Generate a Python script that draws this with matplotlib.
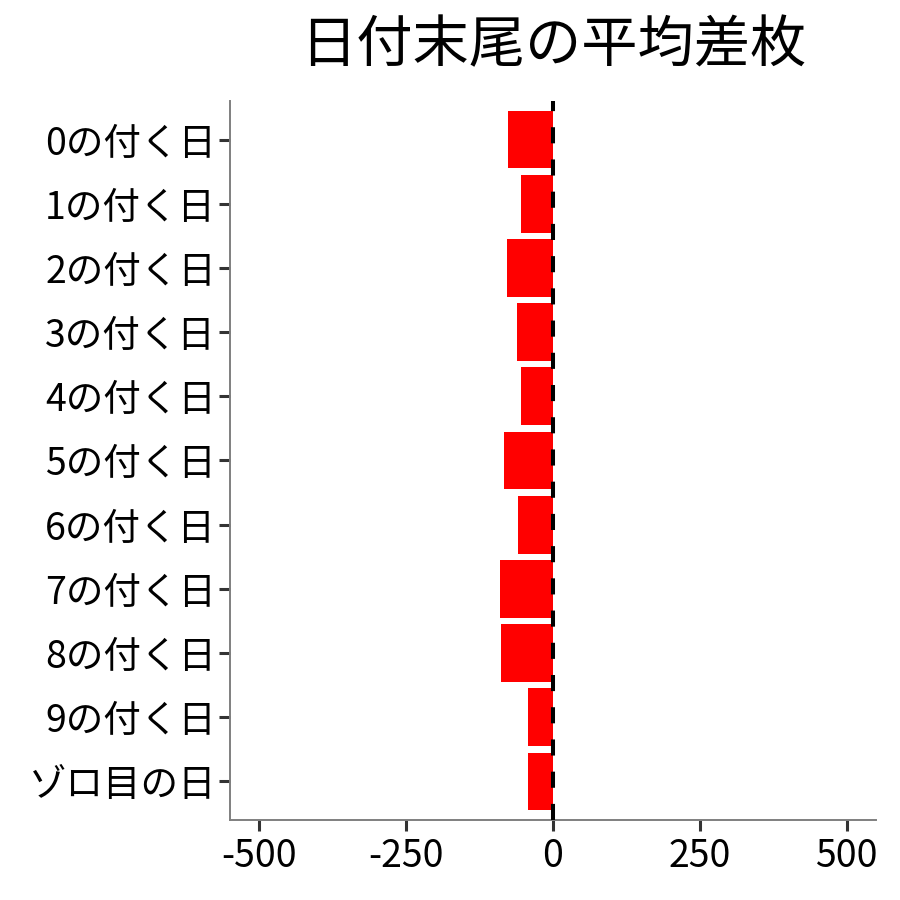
import numpy as np
import matplotlib
matplotlib.use("Agg")
import matplotlib.pyplot as plt

plt.rcParams['font.family'] = ['Noto Sans CJK JP', 'DejaVu Sans']

# 日付末尾ごとの平均差枚
categories = ['0の付く日', '1の付く日', '2の付く日', '3の付く日', '4の付く日',
              '5の付く日', '6の付く日', '7の付く日', '8の付く日', '9の付く日',
              'ゾロ目の日']
values = [-76, -55, -78, -62, -55, -84, -59, -91, -89, -43, -43]
xticks = [-500, -250, 0, 250, 500]

fig = plt.figure(figsize=(9, 9), dpi=100)
ax = fig.add_axes([230 / 900, 80 / 900, 646 / 900, 719 / 900])

ypos = np.arange(len(categories))
ax.barh(ypos, values, height=0.9, color='#ff0000', zorder=2)
ax.axvline(0, color='black', lw=2.9, linestyle=(0, (4, 4)), zorder=3)

ax.set_xlim(-550, 550)
ax.set_ylim(len(categories) - 0.4, -0.6)
ax.set_yticks(ypos)
ax.set_yticklabels(categories)
ax.set_xticks(xticks)
ax.set_xticklabels([str(v) for v in xticks])

for s in ['top', 'right']:
    ax.spines[s].set_visible(False)
for s in ['left', 'bottom']:
    ax.spines[s].set_color('#7f7f7f')
    ax.spines[s].set_linewidth(1.4)

ax.tick_params(axis='both', length=8, width=2.2, color='#333333',
               labelsize=27, labelcolor='black')
ax.tick_params(axis='x', pad=4)
ax.tick_params(axis='y', pad=2)

fig.suptitle('日付末尾の平均差枚', x=553 / 900, y=0.98, fontsize=40.5)

fig.savefig('out.png', dpi=100)
